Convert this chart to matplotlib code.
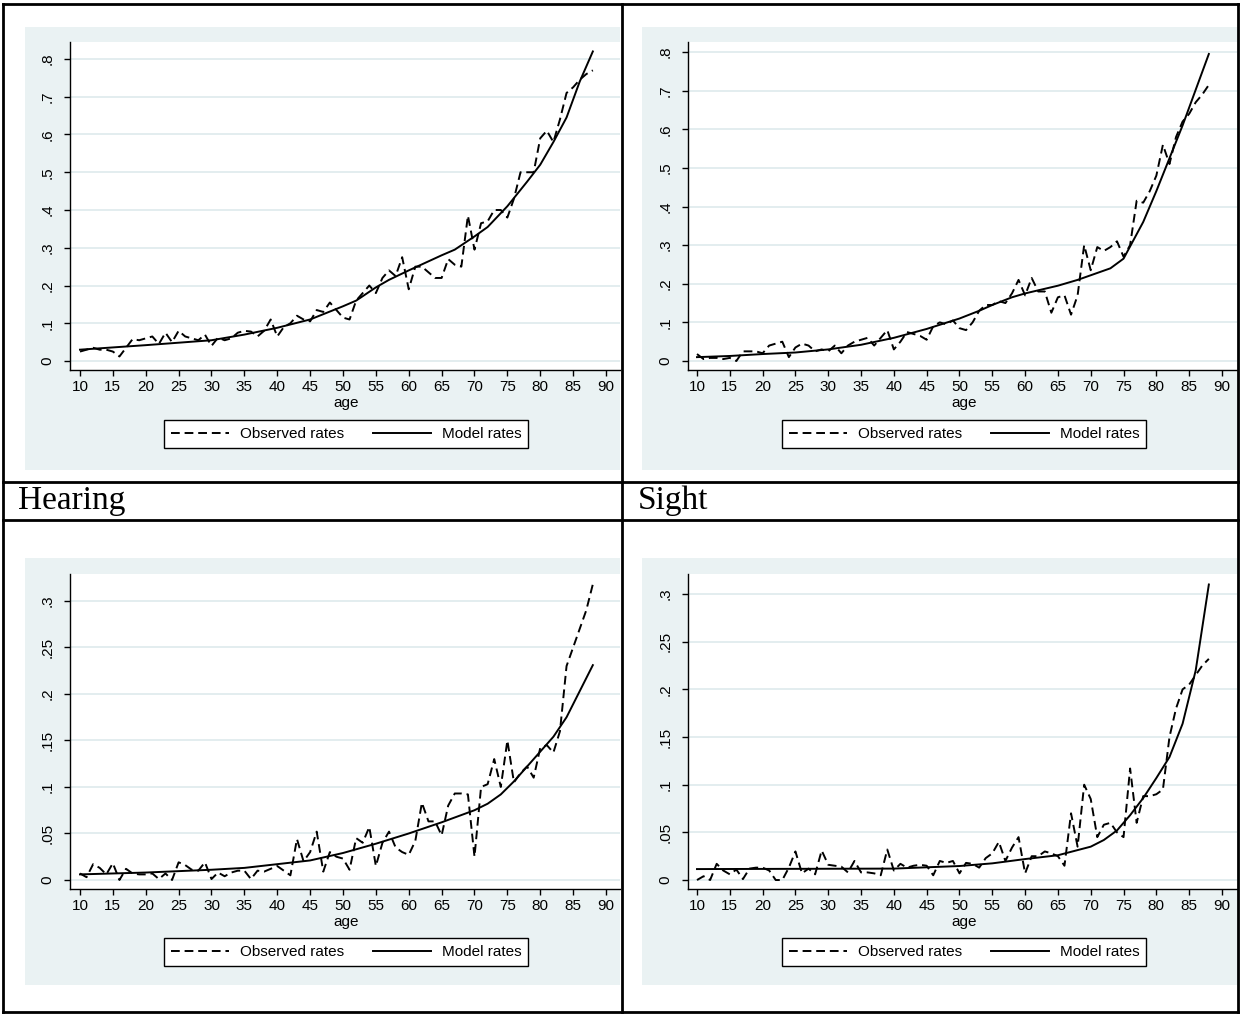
import matplotlib
matplotlib.use("Agg")
import matplotlib.pyplot as plt
from matplotlib.lines import Line2D
import numpy as np

W, H = 1240, 1014

ages = list(range(10, 89))

# ---- Panel 1 (top-left) ----
obs1 = [0.025, 0.030, 0.035, 0.030, 0.030, 0.025, 0.012, 0.035, 0.058, 0.055,
        0.060, 0.065, 0.045, 0.075, 0.050, 0.080, 0.065, 0.060, 0.055, 0.070,
        0.040, 0.062, 0.055, 0.060, 0.075, 0.080, 0.078, 0.065, 0.080, 0.110,
        0.065, 0.090, 0.100, 0.120, 0.110, 0.105, 0.135, 0.130, 0.155, 0.135,
        0.115, 0.110, 0.160, 0.180, 0.200, 0.180, 0.220, 0.240, 0.225, 0.275,
        0.190, 0.250, 0.250, 0.235, 0.220, 0.220, 0.270, 0.255, 0.250, 0.385,
        0.295, 0.365, 0.370, 0.400, 0.400, 0.380, 0.430, 0.500, 0.500, 0.500,
        0.590, 0.610, 0.580, 0.640, 0.710, 0.725, 0.745, 0.760, 0.770]
mod1_age = [10, 20, 30, 35, 40, 45, 50, 52, 55, 57, 60, 65, 67, 70, 72, 75, 78, 80, 82, 84, 86, 88]
mod1 = [0.030, 0.042, 0.055, 0.070, 0.088, 0.110, 0.145, 0.160, 0.195, 0.215, 0.240,
        0.280, 0.295, 0.330, 0.355, 0.410, 0.475, 0.520, 0.580, 0.645, 0.740, 0.820]

# ---- Panel 2 (top-right) ----
obs2 = [0.018, 0.005, 0.008, 0.008, 0.005, 0.008, 0.000, 0.025, 0.025, 0.025,
        0.020, 0.040, 0.045, 0.050, 0.010, 0.035, 0.045, 0.040, 0.025, 0.030,
        0.025, 0.040, 0.020, 0.040, 0.050, 0.055, 0.060, 0.040, 0.060, 0.080,
        0.030, 0.050, 0.075, 0.070, 0.065, 0.055, 0.090, 0.100, 0.095, 0.105,
        0.085, 0.080, 0.100, 0.130, 0.145, 0.145, 0.155, 0.150, 0.175, 0.210,
        0.170, 0.215, 0.180, 0.180, 0.125, 0.165, 0.170, 0.120, 0.170, 0.300,
        0.235, 0.295, 0.285, 0.295, 0.310, 0.270, 0.300, 0.415, 0.410, 0.440,
        0.480, 0.560, 0.510, 0.580, 0.620, 0.640, 0.670, 0.690, 0.715]
mod2_age = [10, 15, 20, 25, 30, 35, 40, 45, 50, 53, 55, 58, 60, 65, 68, 70, 73, 75, 78, 80, 84, 88]
mod2 = [0.010, 0.013, 0.018, 0.022, 0.030, 0.042, 0.060, 0.083, 0.110, 0.130, 0.145,
        0.165, 0.175, 0.195, 0.210, 0.222, 0.240, 0.265, 0.360, 0.440, 0.610, 0.795]

# ---- Panel 3 (Hearing) ----
obs3 = [0.007, 0.003, 0.017, 0.013, 0.006, 0.018, 0.000, 0.012, 0.007, 0.006,
        0.006, 0.007, 0.001, 0.007, 0.000, 0.019, 0.016, 0.011, 0.010, 0.019,
        0.001, 0.008, 0.004, 0.008, 0.010, 0.010, 0.001, 0.010, 0.009, 0.012,
        0.015, 0.010, 0.005, 0.044, 0.020, 0.030, 0.052, 0.009, 0.030, 0.025,
        0.023, 0.011, 0.045, 0.040, 0.057, 0.015, 0.040, 0.052, 0.035, 0.030,
        0.027, 0.042, 0.083, 0.063, 0.063, 0.048, 0.080, 0.093, 0.093, 0.092,
        0.025, 0.100, 0.103, 0.130, 0.100, 0.150, 0.105, 0.115, 0.122, 0.110,
        0.142, 0.145, 0.137, 0.160, 0.230, 0.250, 0.270, 0.290, 0.318]
mod3_age = [10, 20, 30, 35, 40, 45, 50, 55, 60, 65, 70, 72, 74, 76, 80, 82, 84, 88]
mod3 = [0.006, 0.008, 0.011, 0.013, 0.017, 0.021, 0.029, 0.039, 0.050, 0.062, 0.075,
        0.082, 0.092, 0.106, 0.138, 0.154, 0.175, 0.231]

# ---- Panel 4 (Sight) ----
obs4 = [0.000, 0.004, 0.000, 0.017, 0.010, 0.006, 0.011, 0.001, 0.012, 0.013,
        0.013, 0.010, 0.000, 0.000, 0.013, 0.030, 0.007, 0.012, 0.006, 0.031,
        0.016, 0.015, 0.014, 0.008, 0.020, 0.008, 0.008, 0.007, 0.005, 0.032,
        0.010, 0.017, 0.013, 0.015, 0.016, 0.015, 0.005, 0.020, 0.018, 0.020,
        0.007, 0.018, 0.017, 0.013, 0.023, 0.028, 0.040, 0.020, 0.034, 0.045,
        0.007, 0.025, 0.025, 0.030, 0.028, 0.025, 0.015, 0.070, 0.035, 0.100,
        0.085, 0.045, 0.058, 0.060, 0.050, 0.045, 0.117, 0.060, 0.088, 0.088,
        0.090, 0.095, 0.150, 0.180, 0.200, 0.205, 0.215, 0.225, 0.232]
mod4_age = [10, 40, 50, 55, 60, 65, 70, 72, 74, 76, 78, 80, 82, 84, 86, 88]
mod4 = [0.0115, 0.012, 0.0147, 0.0175, 0.022, 0.026, 0.035, 0.042, 0.052, 0.068,
        0.086, 0.107, 0.129, 0.164, 0.220, 0.310]

xticks = list(range(10, 95, 5))
yticks_top = [0, 0.1, 0.2, 0.3, 0.4, 0.5, 0.6, 0.7, 0.8]
ylabels_top = ["0", ".1", ".2", ".3", ".4", ".5", ".6", ".7", ".8"]
yticks_bot = [0, 0.05, 0.1, 0.15, 0.2, 0.25, 0.3]
ylabels_bot = ["0", ".05", ".1", ".15", ".2", ".25", ".3"]
legend_labels = ["Observed rates", "Model rates"]
titles = ["Hearing", "Sight"]

BG = "#EAF2F3"
GRID = "#E3EDEF"
SANS = "Liberation Sans"
FS = 11

fig = plt.figure(figsize=(W / 100, H / 100), dpi=100)
fig.patch.set_facecolor("white")


def rect(x0, y0, x1, y1):
    return [x0 / W, 1 - y1 / H, (x1 - x0) / W, (y1 - y0) / H]


panels = [
    dict(bg=(25, 27, 620, 470), ax=(70, 42, 620, 370), xlim=(8.48, 92.13), ylim=(-0.0238, 0.845),
         obs=obs1, mage=mod1_age, mod=mod1, yt=yticks_top, yl=ylabels_top, agey=403, legy=434),
    dict(bg=(642, 27, 1237, 470), ax=(688, 42, 1237, 370), xlim=(8.63, 92.29), ylim=(-0.0233, 0.826),
         obs=obs2, mage=mod2_age, mod=mod2, yt=yticks_top, yl=ylabels_top, agey=403, legy=434),
    dict(bg=(25, 558, 620, 985), ax=(70, 574, 620, 889), xlim=(8.48, 92.13), ylim=(-0.0097, 0.329),
         obs=obs3, mage=mod3_age, mod=mod3, yt=yticks_bot, yl=ylabels_bot, agey=922, legy=952),
    dict(bg=(642, 558, 1237, 985), ax=(688, 574, 1237, 889), xlim=(8.63, 92.29), ylim=(-0.0094, 0.321),
         obs=obs4, mage=mod4_age, mod=mod4, yt=yticks_bot, yl=ylabels_bot, agey=922, legy=952),
]

for p in panels:
    bx = fig.add_axes(rect(*p["bg"]))
    bx.set_facecolor(BG)
    bx.set_xticks([]); bx.set_yticks([])
    for s in bx.spines.values():
        s.set_visible(False)
    bx.set_zorder(0)

    ax = fig.add_axes(rect(*p["ax"]))
    ax.set_zorder(1)
    ax.set_facecolor("white")
    ax.set_xlim(*p["xlim"]); ax.set_ylim(*p["ylim"])
    ax.set_yticks(p["yt"]); ax.set_yticklabels(p["yl"], rotation=90, va="center")
    ax.set_xticks(xticks); ax.set_xticklabels([str(t) for t in xticks])
    for y in p["yt"]:
        ax.axhline(y, color=GRID, lw=1.4, zorder=0)
    ax.spines["top"].set_visible(False); ax.spines["right"].set_visible(False)
    ax.spines["left"].set_linewidth(1.0); ax.spines["bottom"].set_linewidth(1.0)
    ax.tick_params(axis="x", direction="out", length=4, width=1.0, labelsize=FS, pad=3)
    ax.tick_params(axis="y", direction="out", length=4, width=1.0, labelsize=FS, pad=7)
    for lab in ax.get_xticklabels() + ax.get_yticklabels():
        lab.set_fontfamily(SANS)
    l1, = ax.plot(ages, p["obs"], color="black", lw=1.4, ls=(0, (4.5, 2.5)), zorder=3)
    l2, = ax.plot(p["mage"], p["mod"], color="black", lw=1.4, zorder=3)

    cx = 346 if p["ax"][0] < 600 else 964
    fig.text(cx / W, 1 - p["agey"] / H, "age", ha="center", va="center",
             fontsize=FS, family=SANS)
    leg = fig.legend([l1, l2], legend_labels, ncol=2, loc="center",
                     bbox_to_anchor=(cx / W, 1 - p["legy"] / H), bbox_transform=fig.transFigure,
                     frameon=True, fancybox=False, edgecolor="black", framealpha=1,
                     handlelength=3.8, handletextpad=0.7, columnspacing=1.9,
                     borderpad=0.45, prop=dict(family=SANS, size=FS))
    leg.get_frame().set_linewidth(1.0)

# Titles
fig.text(18 / W, 1 - 501 / H, titles[0], ha="left", va="center", fontsize=24, family="Liberation Serif")
fig.text(638 / W, 1 - 501 / H, titles[1], ha="left", va="center", fontsize=24, family="Liberation Serif")

# Table border lines
lw = 2.0
def hline(y, x0=3, x1=1238):
    fig.add_artist(Line2D([x0 / W, x1 / W], [1 - y / H, 1 - y / H], color="black", lw=lw, zorder=10))
def vline(x, y0=4, y1=1012):
    fig.add_artist(Line2D([x / W, x / W], [1 - y0 / H, 1 - y1 / H], color="black", lw=lw, zorder=10))

hline(4); hline(482); hline(520); hline(1012)
vline(3); vline(622); vline(1238)

fig.savefig("out.png", dpi=100)
